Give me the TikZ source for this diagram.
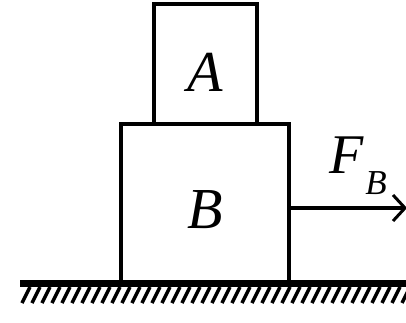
\documentclass[tikz,border=0pt]{standalone}
\usepackage{fontspec}
\setmainfont{Liberation Serif}
\begin{document}
\begin{tikzpicture}[x=1pt,y=-1pt,
  box/.style={draw=black,line width=4pt},
  lbl/.style={font=\fontsize{58}{60}\selectfont\itshape,inner sep=0pt},
  sublbl/.style={font=\fontsize{35}{37}\selectfont\itshape,inner sep=0pt},
  hatch/.style={line width=3.4pt}]
\useasboundingbox (0,0) rectangle (406,323);
\draw[box] (154,4) rectangle (257,124);
\draw[box] (121,124) rectangle (289,283);
\node[lbl] (A) at (205,72) {A};
\node[lbl] (B) at (205,210) {B};
\fill[black] (20,280) rectangle (406,287);
\begin{scope}
\clip (20,280) rectangle (406,310);
\foreach \i in {0,...,39} {
  \draw[hatch] ({30+10*\i},287) -- ({22+10*\i},303);
}
\end{scope}
\coordinate (fs) at (289,208);
\coordinate (fe) at (404,208);
\draw[line width=4pt] (fs) -- (fe);
\draw[line width=3pt] (393,195) -- (405,208) -- (393,221);
\node[lbl,font=\fontsize{56}{58}\selectfont\itshape] (F) at (347,155) {F};
\node[sublbl] (Fsub) at (376,183) {B};
\end{tikzpicture}
\end{document}
